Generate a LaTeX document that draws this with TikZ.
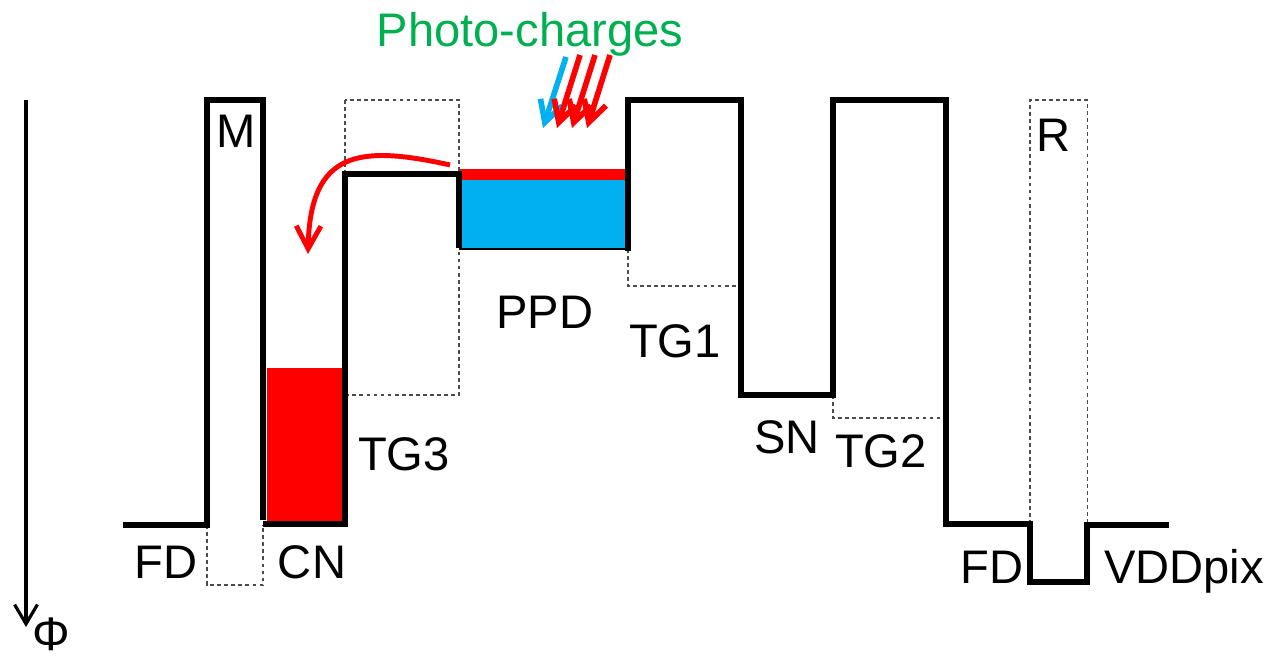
\documentclass[tikz,border=0pt]{standalone}
\usepackage{fontspec}
\setmainfont{Liberation Sans}
\usetikzlibrary{arrows.meta}
\definecolor{ppdblue}{RGB}{0,176,240}
\definecolor{photogreen}{RGB}{0,176,80}
\definecolor{chargered}{RGB}{255,0,0}
\begin{document}
\begin{tikzpicture}[x=0.01cm, y=-0.01cm,
    profile/.style={line width=1.45pt, line join=miter},
    gatebox/.style={gray!60!black, line width=0.3pt, dash pattern=on 1.1pt off 0.9pt},
    lbl/.style={font=\fontsize{13.4}{16}\selectfont, inner sep=0pt, anchor=base},
    photon/.style={line width=1.6pt, -{Straight Barb[length=6pt, width=6.5pt]}}]
  \useasboundingbox (0,0) rectangle (1271,658);

  % Potential axis
  \draw[line width=0.9pt, -{Straight Barb[length=5.5pt, width=6.5pt]}] (26,100) -- (26,627);
  \node[lbl] (phi) at (51,650) {Φ};

  % Stored charges
  \fill[chargered] (267,368) rectangle (344,523);
  \fill[ppdblue] (460,180) rectangle (627,249);
  \fill[chargered] (460,169) rectangle (627,180);

  % Gate levels (dotted)
  \draw[gatebox] (207,525) -- (207,585) -- (263,585) -- (263,525);
  \draw[gatebox] (345,100) rectangle (459,395);
  \draw[gatebox] (628,249) -- (628,286) -- (741,286);
  \draw[gatebox] (833,395) -- (833,418) -- (946,418);
  \draw[gatebox] (1030,524) -- (1030,100) -- (1087,100) -- (1087,525);

  % Potential profile
  \draw[profile] (123,525) -- (207,525) -- (207,100) -- (263,100) -- (263,520);
  \draw[profile] (263,524) -- (345,524) -- (345,174) -- (459,174) -- (459,248);
  \draw[line width=0.6pt] (459,249) -- (628,249);
  \draw[profile] (628,251) -- (628,100) -- (741,100) -- (741,395) -- (833,395)
    -- (833,100) -- (946,100) -- (946,524) -- (1030,524) -- (1030,582)
    -- (1087,582) -- (1087,525) -- (1169,525);

  % Labels
  \node[lbl] (mem) at (236,148) {M};
  \node[lbl] (fdleft) at (166,578) {FD};
  \node[lbl] (cn) at (312,578) {CN};
  \node[lbl] (tgthree) at (404,470) {TG3};
  \node[lbl] (ppd) at (545,328) {PPD};
  \node[lbl] (tgone) at (675,357) {TG1};
  \node[lbl] (sn) at (787,453) {SN};
  \node[lbl] (tgtwo) at (881,467) {TG2};
  \node[lbl] (rst) at (1053,152) {R};
  \node[lbl] (fdright) at (992,583) {FD};
  \node[lbl] (vdd) at (1184,583) {VDDpix};
  \node[lbl, text=photogreen] (photo) at (530,47) {Photo-charges};

  % Incoming light
  \draw[photon, ppdblue] (566,57) -- (543,128);
  \foreach \dx in {0,15,30}
    \draw[photon, chargered] (580+\dx,55) -- (557+\dx,128);

  % Transfer back to CN
  \coordinate (spill) at (450,165);
  \coordinate (cndrop) at (308,254);
  \draw[chargered, line width=1.4pt, -{Straight Barb[length=6.5pt, width=7pt]}]
    (spill) .. controls (360,145) and (310,150) .. (cndrop);
\end{tikzpicture}
\end{document}
